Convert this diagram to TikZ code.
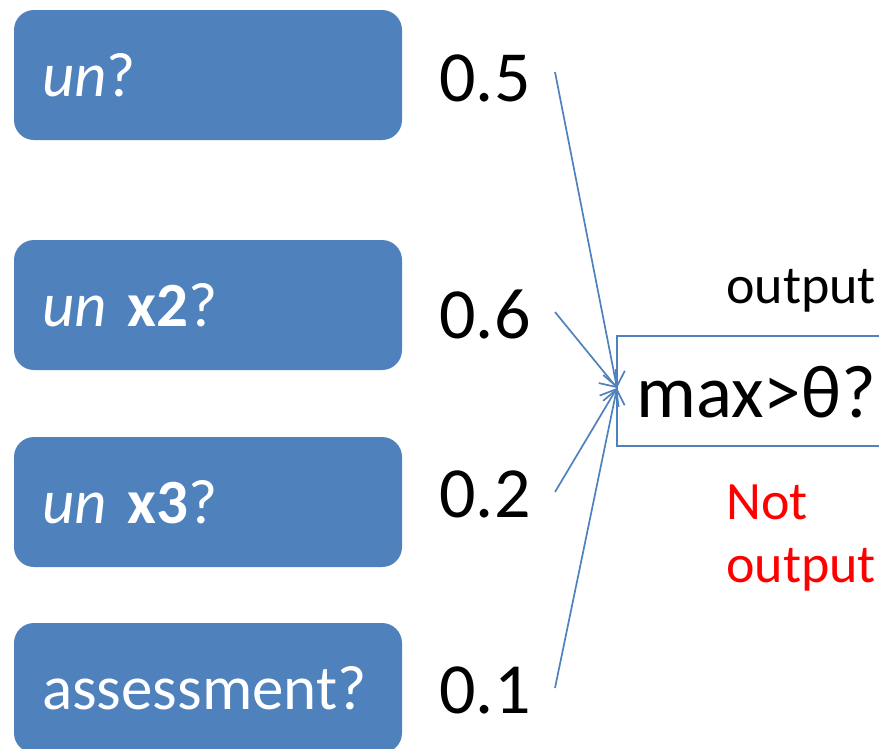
\documentclass[tikz,border=0pt]{standalone}
\usepackage{fontspec}
\setmainfont{Carlito}
\usetikzlibrary{arrows.meta}
\definecolor{officeblue}{HTML}{4F81BD}
\definecolor{nored}{HTML}{FF0000}
\begin{document}
\begin{tikzpicture}[x=1pt,y=-1pt,
  qbox/.style={fill=officeblue, draw=none, rounded corners=20pt,
    minimum width=388pt, minimum height=130pt, text width=332pt,
    align=left, text=white, font=\fontsize{63}{70}\selectfont, inner sep=0pt},
  weight/.style={font=\fontsize{72}{80}\selectfont, inner sep=0pt},
  small/.style={font=\fontsize{54}{63}\selectfont, inner sep=0pt, align=left},
  link/.style={draw=officeblue, line width=1.7pt,
    -{Straight Barb[length=14pt,width=22pt,line width=1.7pt]}}]
  \useasboundingbox (0,0) rectangle (879,748);

  % question boxes
  \node[qbox] (q1) at (208,75)  {\textit{un}?};
  \node[qbox] (q2) at (208,305) {\textit{un} \textbf{x2}?};
  \node[qbox] (q3) at (208,502) {\textit{un} \textbf{x3}?};
  \node[qbox] (q4) at (208,688) {assessment?};

  % weights
  \node[weight] (w1) at (485,78)  {0.5};
  \node[weight] (w2) at (485,314) {0.6};
  \node[weight] (w3) at (485,494) {0.2};
  \node[weight] (w4) at (485,690) {0.1};

  % threshold box
  \draw[draw=officeblue, line width=1.6pt] (885,336) -- (617,336) -- (617,446) -- (885,446);
  \node[font=\fontsize{75}{80}\selectfont, inner sep=0pt, anchor=west] (th) at (636,392) {max>θ?};
  \coordinate (in) at (617,388);

  % outcome labels
  \node[small, anchor=west] (yes) at (726,291) {output};
  \node[small, anchor=north west, text=nored] (no) at (726,485) {Not\\output};

  % weighted connectors
  \coordinate (s1) at (555,72);
  \coordinate (s2) at (555,312);
  \coordinate (s3) at (555,492);
  \coordinate (s4) at (555,688);
  \draw[link] (s1) -- (in);
  \draw[link] (s2) -- (in);
  \draw[link] (s3) -- (in);
  \draw[link] (s4) -- (in);
\end{tikzpicture}
\end{document}
